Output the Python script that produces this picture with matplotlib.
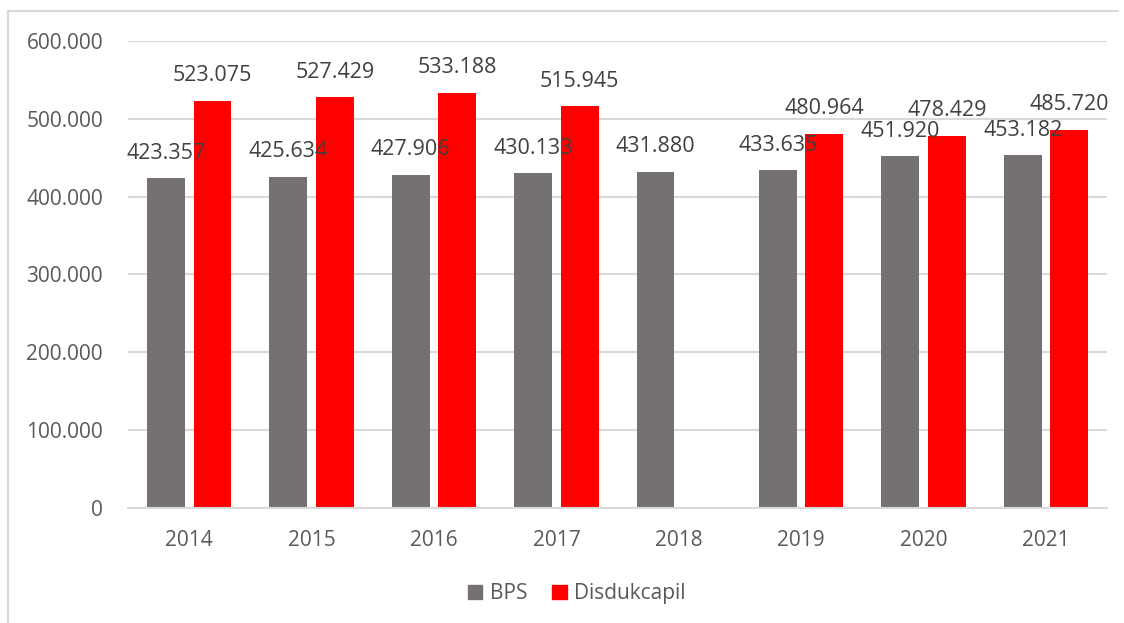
import matplotlib.pyplot as plt
import numpy as np
from matplotlib.lines import Line2D
from matplotlib.patches import Patch

# Data
years = ["2014", "2015", "2016", "2017", "2018", "2019", "2020", "2021"]
bps = [423357, 425634, 427906, 430133, 431880, 433635, 451920, 453182]
disdukcapil = [523075, 527429, 533188, 515945, None, 480964, 478429, 485720]

gray = "#767171"
red = "#FF0000"

plt.rcParams['font.family'] = ['Open Sans', 'DejaVu Sans']


def fmt(v):
    # Indonesian style thousands separator
    return f"{v:,.0f}".replace(",", ".")


fig = plt.figure(figsize=(11.24, 6.23), dpi=100)
ax = fig.add_axes([0.1139, 0.1846, 0.985 - 0.1139, 0.7496])

x = np.arange(len(years))
w = 0.31
off = 0.19

ax.bar(x - off, bps, width=w, color=gray, zorder=3)
red_x = [xi + off for xi, v in zip(x, disdukcapil) if v is not None]
red_v = [v for v in disdukcapil if v is not None]
ax.bar(red_x, red_v, width=w, color=red, zorder=3)

for xi, v in zip(list(x - off) + red_x, bps + red_v):
    ax.annotate(fmt(v), (xi, v), xytext=(0, 18), textcoords="offset points",
                ha="center", va="center", fontsize=15.5, color="#404040", zorder=4)

ax.set_xlim(-0.5, len(years) - 0.5)
ax.set_ylim(0, 600000)
ax.set_yticks(np.arange(0, 600001, 100000))
ax.set_yticklabels([fmt(v) for v in np.arange(0, 600001, 100000)])
ax.set_xticks(x)
ax.set_xticklabels(years)
ax.tick_params(axis="both", length=0, labelsize=15, labelcolor="#595959")
ax.tick_params(axis="y", pad=18)
ax.tick_params(axis="x", pad=16)

ax.grid(axis="y", color="#D9D9D9", linewidth=1.5, zorder=0)
for s in ["top", "right", "left"]:
    ax.spines[s].set_visible(False)
ax.spines["bottom"].set_color("#D9D9D9")
ax.spines["bottom"].set_linewidth(1.5)
ax.spines["bottom"].set_zorder(5)

handles = [Patch(color=gray, label="BPS"), Patch(color=red, label="Disdukcapil")]
fig.legend(handles=handles, loc="center", bbox_to_anchor=(0.513, 0.047), ncol=2,
           frameon=False, fontsize=15, labelcolor="#595959", handlelength=0.7,
           handleheight=0.7, handletextpad=0.35, columnspacing=1.2)

# Chart frame (left and top edges visible)
fig.add_artist(Line2D([8 / 1124, 8 / 1124], [0, 1 - 11 / 623], color="#D9D9D9", linewidth=1.5))
fig.add_artist(Line2D([8 / 1124, 1118 / 1124], [1 - 11 / 623, 1 - 11 / 623], color="#D9D9D9", linewidth=1.5))

plt.savefig("out.png", dpi=100)
plt.close()
